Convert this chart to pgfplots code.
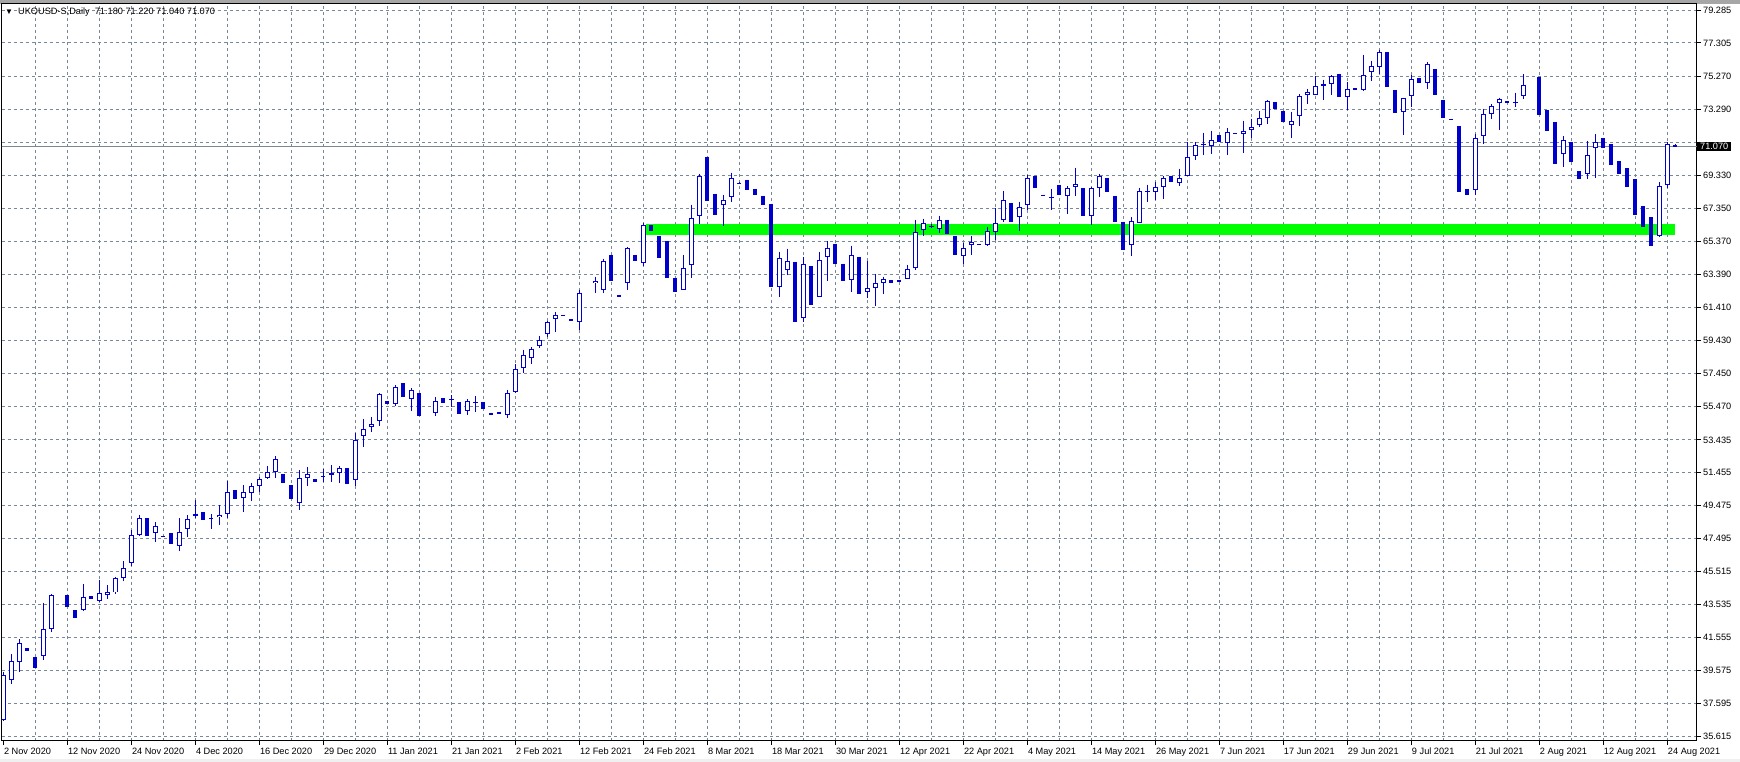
\documentclass[border=0pt]{standalone}
\usepackage{fontspec}
\setmainfont{Liberation Sans}
\usepackage{pgfplots}
\usepackage{pgfplotstable}
\pgfplotsset{compat=1.18}

\definecolor{candle}{RGB}{0,0,205}
\definecolor{gridc}{RGB}{119,136,153}
\definecolor{band}{RGB}{0,255,0}
\newcommand{\lbl}{\fontsize{9.2pt}{11pt}\selectfont}

% daily bars: index, open, high, low, close (empty holiday bars left out)
\pgfplotstableread{
i o h l c
0 36.62 39.45 36.55 39.29
1 38.97 40.55 38.73 40.13
2 40.09 41.46 39.49 41.21
3 40.93 40.93 40.75 40.75
4 40.39 40.39 39.73 39.73
5 40.47 43.64 40.23 42.06
6 42.04 44.18 41.90 44.10
8 44.10 44.10 43.40 43.40
9 43.20 43.20 42.74 42.74
10 43.18 44.76 43.12 43.96
11 44.04 44.04 43.88 43.88
12 43.72 45.00 43.66 44.22
13 44.08 44.70 43.88 44.26
14 44.26 45.20 44.18 45.12
15 45.16 46.15 44.96 45.71
16 46.05 48.01 45.87 47.69
17 47.69 48.91 47.65 48.73
18 48.73 48.73 47.67 47.67
19 47.85 48.49 47.29 48.25
20 47.66 47.66 47.64 47.64
21 47.81 47.81 47.19 47.19
22 47.03 48.73 46.77 47.87
23 48.05 48.91 47.61 48.65
24 48.89 49.82 48.77 49.01
25 49.09 49.09 48.63 48.63
26 48.73 48.97 48.09 48.65
27 48.81 49.50 48.33 48.95
28 49.01 50.98 48.77 50.28
29 50.42 50.42 49.90 49.90
30 49.92 50.72 49.11 50.28
31 50.22 50.84 49.78 50.64
32 50.64 51.22 50.30 51.08
33 51.12 51.86 51.08 51.48
34 51.48 52.44 51.16 52.28
35 51.36 51.36 50.86 50.86
36 50.70 50.70 49.90 49.90
37 49.66 51.62 49.25 51.12
38 51.12 51.78 50.68 51.36
39 51.08 51.08 50.92 50.92
40 51.26 51.66 50.92 51.18
41 51.40 51.92 50.92 51.42
42 51.42 51.86 50.86 51.72
43 51.72 51.72 50.80 50.80
44 51.00 53.87 50.66 53.46
45 53.65 54.67 53.02 54.07
46 54.19 54.79 53.89 54.37
47 54.55 56.23 54.29 56.17
48 55.77 55.77 55.57 55.57
49 55.57 56.73 55.45 56.59
50 56.87 56.87 55.99 55.99
51 55.89 56.55 55.19 56.43
52 56.27 56.27 54.85 54.85
54 55.05 56.03 54.85 55.77
55 55.95 55.95 55.63 55.63
56 55.87 56.15 55.39 55.91
57 55.71 55.71 54.97 54.97
58 55.17 55.87 54.91 55.77
59 55.69 56.09 55.13 55.73
60 55.73 55.73 55.27 55.27
61 55.07 55.07 54.91 54.91
62 55.13 55.13 54.97 54.97
63 54.93 56.45 54.73 56.25
64 56.31 58.00 56.25 57.70
65 57.76 58.86 57.43 58.54
66 58.36 59.00 57.98 58.92
67 59.08 59.70 58.94 59.46
68 59.80 60.60 59.60 60.54
69 60.70 61.14 59.90 60.96
70 60.96 60.96 60.94 60.94
71 60.72 60.72 60.60 60.60
72 60.52 62.47 60.06 62.29
74 62.85 63.25 62.25 62.99
75 62.43 64.34 62.25 64.20
76 64.58 64.58 62.97 62.97
77 62.17 62.17 62.01 62.01
78 62.85 65.06 62.43 64.98
79 64.58 64.58 64.18 64.18
80 64.06 66.48 63.88 66.36
81 66.34 66.34 66.02 66.02
82 65.72 65.72 64.36 64.36
83 65.42 65.42 63.15 63.15
84 63.19 63.19 62.31 62.31
85 62.45 64.58 62.45 63.78
86 63.94 67.59 63.15 66.78
87 66.88 69.45 66.44 69.33
88 70.47 70.47 67.79 67.79
89 68.25 68.25 66.98 66.98
90 67.57 68.17 66.28 67.87
91 68.05 69.51 67.75 69.19
92 68.91 68.93 68.87 68.89
93 69.09 69.09 68.49 68.49
94 68.55 68.55 68.19 68.19
95 68.13 68.13 67.55 67.55
96 67.65 67.65 62.61 62.61
97 62.61 64.76 62.01 64.38
98 63.64 64.94 63.33 64.20
99 64.16 64.16 60.51 60.51
100 60.75 64.42 60.51 64.02
101 63.88 63.88 61.53 61.53
102 62.03 64.76 62.03 64.26
103 64.44 65.40 62.97 65.00
104 65.24 65.24 64.00 64.00
105 64.04 64.04 62.97 62.97
106 63.03 65.12 62.31 64.56
107 64.46 64.46 62.19 62.19
108 62.31 64.20 61.95 62.57
109 62.55 63.44 61.47 62.87
110 62.85 63.25 62.19 63.11
111 63.05 63.05 62.85 62.85
112 63.07 63.07 62.95 62.95
113 63.09 63.98 63.09 63.72
114 63.78 66.68 63.66 65.94
115 66.06 66.74 65.68 66.48
116 66.22 66.40 66.16 66.32
117 66.14 66.92 65.88 66.66
118 66.68 66.68 65.80 65.80
119 65.72 65.72 64.54 64.54
120 64.48 65.30 64.04 64.98
121 65.16 65.72 64.54 65.34
122 65.23 65.23 65.21 65.21
123 65.14 66.26 65.08 66.00
124 65.94 67.36 65.46 66.48
125 66.64 68.43 66.56 67.87
126 67.71 67.71 66.56 66.56
127 66.84 67.77 65.98 67.45
128 67.55 69.35 67.24 69.19
129 69.33 69.33 68.57 68.57
130 68.19 68.19 68.09 68.09
131 68.04 68.53 67.24 68.06
132 68.79 68.79 68.19 68.19
133 68.09 68.69 67.02 68.59
134 68.65 69.81 68.09 68.83
135 68.59 68.59 66.88 66.88
136 66.90 68.62 66.38 68.59
137 68.59 69.45 68.03 69.31
138 69.21 69.21 68.33 68.33
139 68.13 68.13 66.52 66.52
140 66.56 66.56 64.84 64.84
141 65.16 66.84 64.48 66.60
142 66.48 68.59 66.48 68.41
143 68.37 68.79 67.73 68.41
144 68.35 68.93 67.85 68.65
145 68.65 69.29 67.91 69.19
146 69.33 69.33 68.93 68.93
147 68.89 69.73 68.69 69.19
148 69.31 71.33 69.31 70.45
149 70.51 71.33 70.25 71.17
150 71.19 71.92 70.55 71.23
151 71.11 72.04 70.61 71.48
152 71.78 71.78 71.33 71.33
153 71.27 72.20 70.55 71.96
154 71.90 71.90 71.82 71.82
155 71.84 72.64 70.67 72.02
156 72.08 72.76 71.60 72.26
157 72.38 73.24 72.26 72.80
158 72.80 73.88 72.42 73.82
159 73.78 73.78 73.32 73.32
160 73.24 73.24 72.54 72.54
161 72.36 73.16 71.60 72.62
162 72.92 74.24 72.30 74.12
163 74.18 74.54 73.62 74.36
164 74.18 75.32 74.18 74.72
165 74.72 75.10 73.88 74.84
166 74.84 75.38 74.18 75.32
167 75.45 75.45 74.04 74.04
168 74.06 74.96 73.28 74.54
169 74.60 74.60 74.50 74.50
170 74.48 76.61 74.42 75.38
171 75.57 76.25 75.02 75.93
172 75.87 76.89 75.45 76.77
173 76.77 76.77 74.66 74.66
174 74.48 74.48 73.08 73.08
175 73.16 74.02 71.76 74.00
176 74.12 75.38 73.44 75.14
177 75.20 75.20 74.88 74.88
178 74.90 76.17 74.54 76.05
179 75.75 75.75 74.18 74.18
180 73.88 73.88 72.80 72.80
181 72.76 72.76 72.72 72.72
182 72.32 72.32 68.35 68.35
183 68.53 68.53 68.17 68.17
184 68.47 71.84 68.15 71.60
185 71.72 73.34 71.23 73.04
186 73.04 73.64 72.74 73.52
187 73.68 74.02 72.10 73.92
188 73.82 73.82 73.72 73.72
189 73.72 74.32 73.48 73.76
190 74.10 75.45 73.94 74.76
192 75.26 75.26 73.00 73.00
193 73.26 73.26 72.04 72.04
194 72.56 72.56 70.05 70.05
195 70.61 71.72 69.87 71.46
196 71.33 71.33 70.17 70.17
197 69.59 69.59 69.11 69.11
198 69.45 71.44 69.11 70.55
199 70.97 71.84 69.21 71.33
200 71.58 71.58 70.97 70.97
201 71.21 71.21 69.99 69.99
202 70.21 70.21 69.45 69.45
203 69.79 69.79 68.67 68.67
204 69.13 69.13 66.98 66.98
205 67.51 67.51 66.26 66.26
206 66.84 66.84 65.12 65.12
207 65.68 68.95 65.62 68.69
208 68.75 71.36 68.57 71.21
209 71.18 71.22 71.04 71.07
}\candles

\begin{document}
\begin{tikzpicture}
\path[use as bounding box] (0pt,0pt) rectangle (1740pt,762pt);
\fill[gray!70] (0pt,758pt) rectangle (1740pt,762pt);
\fill[gray!12] (0pt,0pt) rectangle (1740pt,3pt);
\begin{axis}[
  at={(2pt,21pt)}, anchor=south west,
  scale only axis, width=1695pt, height=737pt,
  xmin=-0.166, xmax=211.71, ymin=35.33, ymax=79.65,
  axis line style={black, line width=1pt},
  tick align=outside, major tick length=4pt, minor tick length=0pt,
  tick style={black, line width=1pt},
  xtick pos=bottom, ytick pos=right, yticklabel pos=right,
  xtick={0,8,...,208},
  xticklabels={2 Nov 2020, 12 Nov 2020, 24 Nov 2020, 4 Dec 2020, 16 Dec 2020, 29 Dec 2020, 11 Jan 2021, 21 Jan 2021, 2 Feb 2021, 12 Feb 2021, 24 Feb 2021, 8 Mar 2021, 18 Mar 2021, 30 Mar 2021, 12 Apr 2021, 22 Apr 2021, 4 May 2021, 14 May 2021, 26 May 2021, 7 Jun 2021, 17 Jun 2021, 29 Jun 2021, 9 Jul 2021, 21 Jul 2021, 2 Aug 2021, 12 Aug 2021, 24 Aug 2021},
  minor xtick={4,8,...,208},
  ytick={35.615,37.595,39.575,41.555,43.535,45.515,47.495,49.475,51.455,53.435,55.470,57.450,59.430,61.410,63.390,65.370,67.350,69.330,71.310,73.290,75.270,77.305,79.285},
  yticklabels={35.615,37.595,39.575,41.555,43.535,45.515,47.495,49.475,51.455,53.435,55.470,57.450,59.430,61.410,63.390,65.370,67.350,69.330,,73.290,75.270,77.305,79.285},
  xminorgrids, ymajorgrids,
  grid style={gridc, line width=1pt, dash pattern=on 3pt off 3pt},
  minor grid style={gridc, line width=1pt, dash pattern=on 3pt off 3pt},
  xticklabel style={font=\lbl, anchor=north west, inner sep=0pt, xshift=0.5pt, yshift=-3pt},
  yticklabel style={font=\lbl, anchor=west, inner sep=0pt, xshift=2pt},
  candle/.style={draw=none, mark=none,
    error bars/.cd, y dir=minus, y explicit, error mark=none},
]
% support band
\addplot[fill=band, draw=none] coordinates {(80.3,65.76) (209.0,65.76) (209.0,66.42) (80.3,66.42)} -- cycle;
% last price line
\addplot[gridc, line width=1pt] coordinates {(-1,71.07) (212,71.07)};
% wicks
\addplot[candle, error bar style={draw=candle, solid, line width=1pt}]
  table[x=i, y=h, y error expr={\thisrow{h}-\thisrow{l}}] {\candles};
% falling bodies
\addplot[candle, error bar style={draw=candle, solid, line width=4pt}]
  table[x=i, y=o, y error expr={(\thisrow{o}>=\thisrow{c})*max(\thisrow{o}-\thisrow{c},0.07)}] {\candles};
% rising bodies: outline then white inside
\addplot[candle, error bar style={draw=candle, solid, line width=5pt}]
  table[x=i, y=c, y error expr={(\thisrow{c}>\thisrow{o})*max(\thisrow{c}-\thisrow{o},0.07)}] {\candles};
\addplot[candle, error bar style={draw=white, solid, line width=3pt}]
  table[x=i, y expr=\thisrow{c}-0.06, y error expr={(\thisrow{c}>\thisrow{o})*max(\thisrow{c}-\thisrow{o}-0.12,0)}] {\candles};
\coordinate (last) at (axis cs:211.71,71.07);
\end{axis}
\node[fill=black, text=white, anchor=west, font=\lbl, inner xsep=3pt, inner ysep=1.5pt,
  text height=6.6pt, text depth=0pt] at (last) {71.070};
\node[anchor=west, inner sep=0pt, font=\fontsize{8pt}{9pt}\selectfont] at (5pt,750pt) {▼};
\node[anchor=west, inner sep=0pt, font=\lbl] at (18pt,750pt) {UKOUSD-S,Daily\ \ 71.180 71.220 71.040 71.070};
\end{tikzpicture}
\end{document}
